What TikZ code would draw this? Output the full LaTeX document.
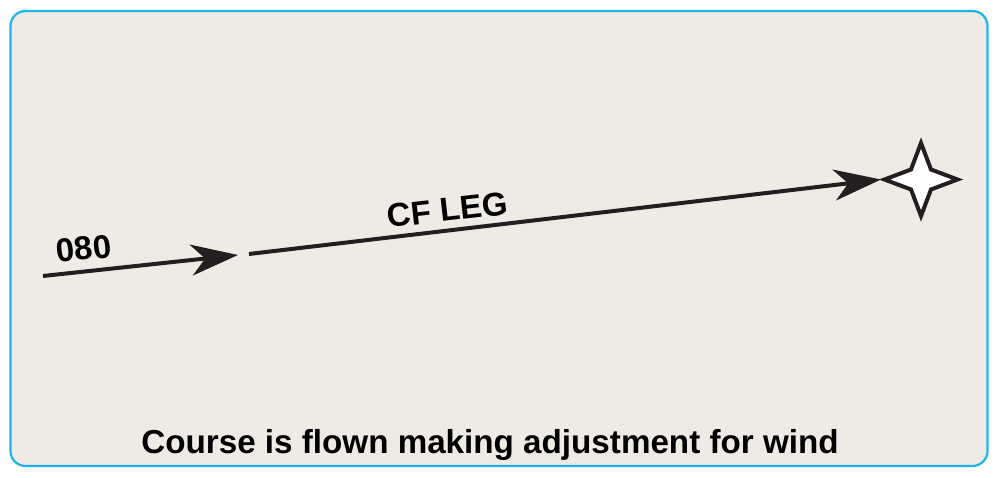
\documentclass[tikz,border=0pt]{standalone}
\usepackage{fontspec}
\setmainfont{Liberation Sans}
\usetikzlibrary{arrows.meta,calc}
\definecolor{boxfill}{HTML}{EEEBE5}
\definecolor{boxline}{HTML}{1EB4EA}
\definecolor{ink}{HTML}{231F20}
\tikzset{
  leg/.style={draw=ink, line width=4pt, -{Stealth[length=47pt,width=31pt,inset=14pt]}},
  legtext/.style={font=\bfseries\fontsize{33}{38}\selectfont, text=black, inner sep=0pt, anchor=base},
  caption/.style={font=\bfseries\fontsize{33.2}{38}\selectfont, text=black, inner sep=0pt, anchor=base},
}
\begin{document}
\begin{tikzpicture}[x=1pt,y=1pt]
\useasboundingbox (0,0) rectangle (999,477);
\draw[boxline, fill=boxfill, line width=2.2pt, rounded corners=15pt] (10.5,11) rectangle (987.5,466);
% points
\coordinate (start) at (43,201);
\coordinate (gap1) at (238,222);
\coordinate (gap2) at (249,223);
\coordinate (fix) at (921,297.5);
\coordinate (fixw) at (881,297.5);
% legs
\draw[leg] (start) -- (gap1);
\draw[leg] (gap2) -- (fixw);
% star
\draw[ink, fill=white, line width=4pt, miter limit=10]
  ($(fix)+(-36.5,0)$) -- ($(fix)+(-10,10)$) -- ($(fix)+(0,36.5)$) -- ($(fix)+(10,10)$) --
  ($(fix)+(36.5,0)$) -- ($(fix)+(10,-10)$) -- ($(fix)+(0,-36.5)$) -- ($(fix)+(-10,-10)$) -- cycle;
% labels
\node[legtext, rotate=6.2] (l080) at (85,217) {080};
\node[legtext, rotate=6.5] (lcf) at (449,256) {CF LEG};
\node[caption] (cap) at (490,24) {Course is flown making adjustment for wind};
\end{tikzpicture}
\end{document}
